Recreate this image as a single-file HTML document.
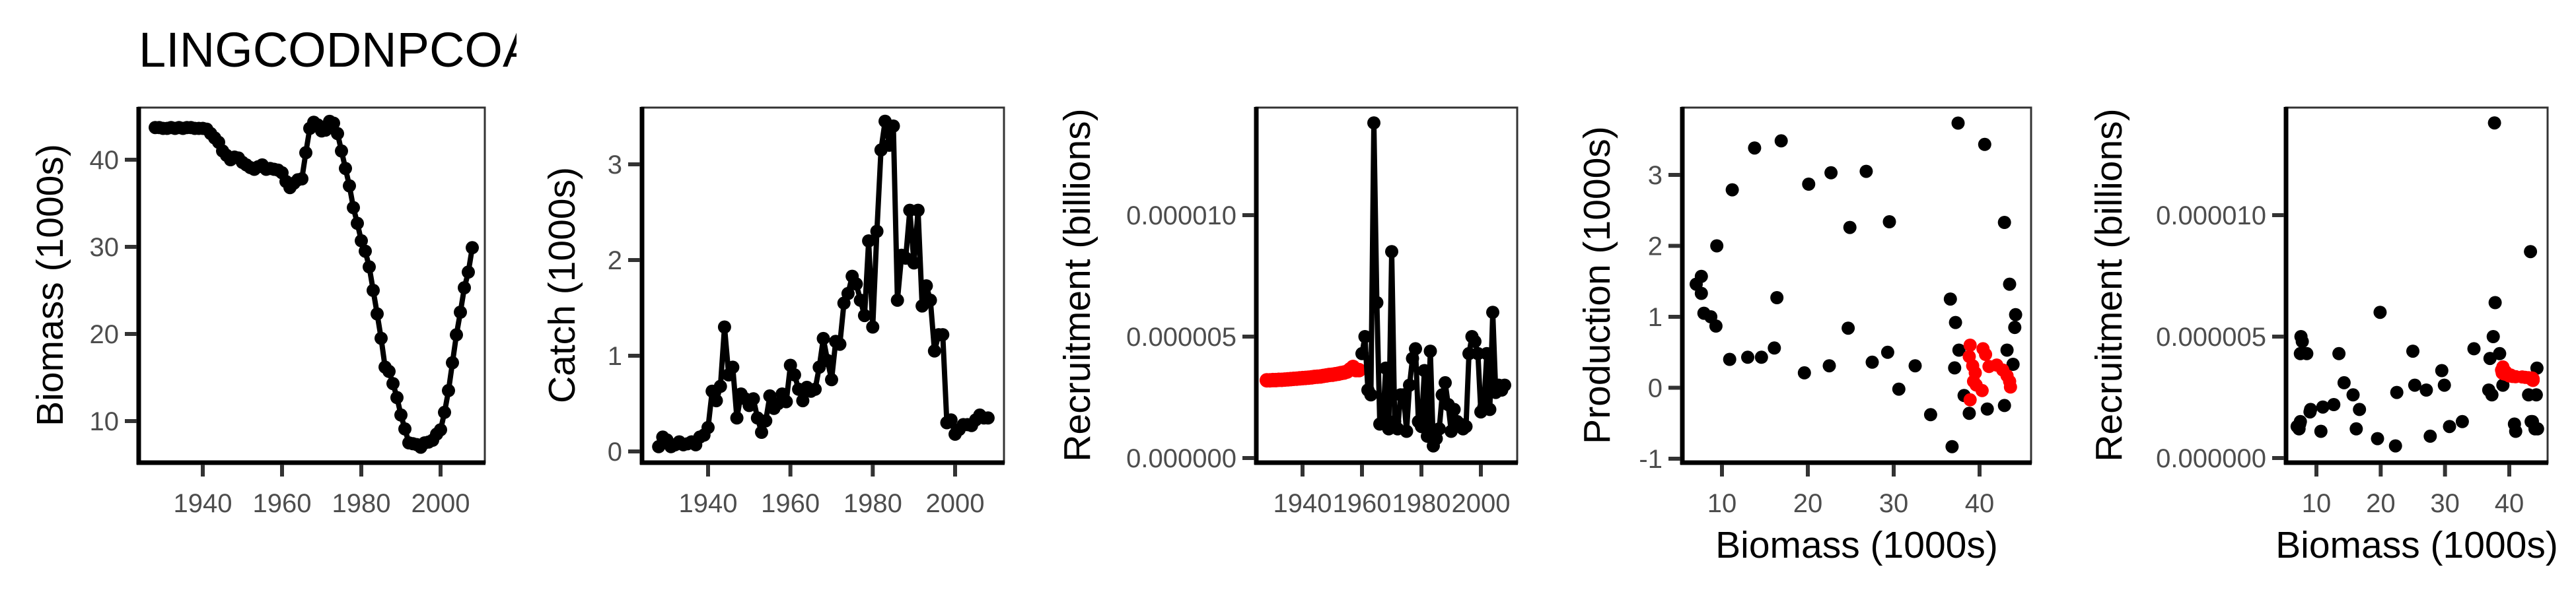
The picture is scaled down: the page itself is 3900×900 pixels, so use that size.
<!DOCTYPE html>
<html><head><meta charset="utf-8"><style>
html,body{margin:0;padding:0;background:#fff;}
svg{display:block;font-family:"Liberation Sans",Arial,sans-serif;}
</style></head><body>
<svg id="chart" width="3900" height="900" viewBox="0 0 3900 900">
<defs><clipPath id="titleclip"><rect x="0" y="0" width="782" height="140"/></clipPath></defs>
<text x="210" y="101" font-size="74" fill="#000" clip-path="url(#titleclip)">LINGCODNPCOA</text>
</svg>
<script>
const years = [];
for (let y = 1928; y <= 2008; y++) years.push(y);
const biomass = [43.7,43.7,43.6,43.6,43.7,43.6,43.7,43.6,43.7,43.7,43.6,43.6,43.6,43.5,43.0,42.5,42.0,41.0,40.5,40.0,40.3,40.2,39.7,39.4,39.1,38.9,39.2,39.4,38.9,39.0,38.9,38.8,38.5,37.5,36.8,37.3,37.7,37.8,40.8,43.6,44.3,44.0,43.3,43.4,44.4,44.2,43.0,41.0,39.0,37.0,34.5,32.7,30.7,29.5,27.7,25.0,22.3,19.5,16.2,15.7,14.3,12.7,10.7,9.1,7.5,7.4,7.3,7.0,7.5,7.6,7.8,8.5,9.0,11.0,13.5,16.7,19.9,22.5,25.3,27.1,29.9];
const catchVals = [0.05,0.15,0.12,0.05,0.07,0.10,0.07,0.08,0.10,0.07,0.15,0.17,0.25,0.63,0.53,0.68,1.30,0.80,0.88,0.35,0.60,0.55,0.48,0.55,0.35,0.20,0.32,0.58,0.45,0.50,0.60,0.52,0.90,0.80,0.65,0.53,0.67,0.63,0.65,0.88,1.18,0.95,0.75,1.15,1.12,1.55,1.65,1.83,1.75,1.58,1.42,2.20,1.30,2.30,3.15,3.45,3.20,3.40,1.58,2.05,2.02,2.52,1.97,2.52,1.52,1.73,1.58,1.05,1.22,1.22,0.30,0.33,0.18,0.23,0.28,0.28,0.27,0.33,0.38,0.35,0.35];
const recrRedYears = [];
for (let y = 1928; y <= 1959; y++) recrRedYears.push(y);
const recrRed = [3.20,3.20,3.21,3.21,3.22,3.22,3.23,3.24,3.25,3.26,3.27,3.28,3.29,3.30,3.31,3.32,3.34,3.35,3.36,3.38,3.40,3.42,3.43,3.45,3.47,3.50,3.52,3.56,3.65,3.75,3.62,3.62];
const recrBlackYears = [];
for (let y = 1960; y <= 2008; y++) recrBlackYears.push(y);
const recrBlack = [4.3,5.0,2.8,2.6,13.8,6.4,1.4,1.5,3.7,1.2,8.5,1.5,1.2,2.6,2.6,1.1,3.0,4.1,4.5,1.5,1.3,3.6,0.9,4.4,0.5,0.8,1.2,2.6,3.1,2.2,1.1,2.0,1.5,1.4,1.2,1.3,4.3,5.0,4.8,4.3,1.9,2.1,4.3,2.0,6.0,2.7,3.0,2.8,3.0];
const prodBlackB = [7.0,7.6,7.6,7.9,8.7,9.3,9.4,10.9,11.2,13.0,13.8,14.6,16.1,16.4,16.9,19.6,20.1,22.5,22.7,24.9,24.7,26.8,29.5,37.5,40.6,42.9,43.5,44.2,44.1,36.6,37.2,37.6,43.2,43.9,37.1,27.5,29.3,32.5,30.6,34.3,38.2,38.8,40.9,42.9,36.8];
const prodBlackP = [1.46,1.57,1.33,1.05,1.00,0.87,2.00,0.40,2.79,0.43,3.38,0.43,0.56,1.27,3.48,0.21,2.87,0.31,3.03,2.26,0.84,3.05,2.34,3.73,3.43,2.33,1.46,1.03,0.85,1.25,0.92,0.53,0.53,0.33,0.28,0.36,0.50,0.31,-0.02,-0.38,-0.11,-0.36,-0.30,-0.25,-0.83];
const prodRedB = [38.9,38.8,39.2,39.5,39.3,39.6,40.3,40.4,40.7,41.1,42.0,42.7,43.2,43.5,43.6,38.9];
const prodRedP = [0.60,0.44,0.31,0.21,0.09,0.04,-0.04,0.55,0.47,0.30,0.32,0.25,0.17,0.09,0.01,-0.17];
const yearTicks = [1940,1960,1980,2000];
const biomassTicks = [10,20,30,40];
const catchTicks = [0,1,2,3];
const recrTicks = [0,5,10];
const recrTickLabels = ["0.000000","0.000005","0.000010"];
const prodTicks = [-1,0,1,2,3];
const bioXTicks = [10,20,30,40];

const NS = "http://www.w3.org/2000/svg";
const svg = document.getElementById('chart');
function el(tag, attrs, parent) {
  const e = document.createElementNS(NS, tag);
  for (const k in attrs) e.setAttribute(k, attrs[k]);
  (parent || svg).appendChild(e);
  return e;
}
function lin(d0, d1, r0, r1) { return v => r0 + (v - d0) * (r1 - r0) / (d1 - d0); }

function panel(name, box, xs, ys, xt, xtl, yt, ytl, ytitle, xtitle, ytitleX) {
  const g = el('g', {});
  
  
  const frame = el('rect', {x: box.l, y: box.t, width: box.r - box.l, height: box.b - box.t, fill: 'none', stroke: '#333', 'stroke-width': 3}, g);
  
  
  const ax = el('line', {x1: box.l - 3, y1: box.b, x2: box.r + 1, y2: box.b, stroke: '#000', 'stroke-width': 7}, g);
  
  
  const ay = el('line', {x1: box.l, y1: box.t - 1, x2: box.l, y2: box.b + 3, stroke: '#000', 'stroke-width': 7}, g);
  
  
  xt.forEach((v, i) => {
    const x = xs(v);
    const t = el('line', {x1: x, y1: box.b + 3, x2: x, y2: box.b + 21, stroke: '#333', 'stroke-width': 6}, g);
    
    
    const lb = el('text', {x: x, y: box.b + 75, 'font-size': 40, fill: '#4d4d4d', 'text-anchor': 'middle'}, g);
    lb.textContent = xtl[i];
    
    
  });
  yt.forEach((v, i) => {
    const y = ys(v);
    const t = el('line', {x1: box.l - 21, y1: y, x2: box.l - 3, y2: y, stroke: '#333', 'stroke-width': 6}, g);
    
    
    const lb = el('text', {x: box.l - 30, y: y + 14, 'font-size': 40, fill: '#4d4d4d', 'text-anchor': 'end'}, g);
    lb.textContent = ytl[i];
    
    
  });
  const cy = (box.t + box.b) / 2;
  const yl = el('text', {x: ytitleX, y: cy, 'font-size': 57, fill: '#000', 'text-anchor': 'middle', transform: `rotate(-90 ${ytitleX} ${cy})`}, g);
  yl.textContent = ytitle;
  
  
  if (xtitle) {
    const xl = el('text', {x: (box.l + box.r) / 2, y: 845, 'font-size': 57, fill: '#000', 'text-anchor': 'middle'}, g);
    xl.textContent = xtitle;
    
    
  }
  return g;
}
function lineSeries(g, xv, yv, xs, ys, color, name, width) {
  const d = xv.map((x, i) => (i ? 'L' : 'M') + xs(x).toFixed(1) + ' ' + ys(yv[i]).toFixed(1)).join(' ');
  const p = el('path', {d: d, fill: 'none', stroke: color, 'stroke-width': width, 'stroke-linejoin': 'round'}, g);
  
  
}
function points(g, xv, yv, xs, ys, color, name, r) {
  xv.forEach((x, i) => {
    const c = el('circle', {cx: xs(x).toFixed(1), cy: ys(yv[i]).toFixed(1), r: r, fill: color}, g);
    
    
  });
}

// Panel 1: biomass vs year
{
  const box = {l: 210, r: 734, t: 163, b: 701};
  const xs = lin(1940, 2000, 307, 667), ys = lin(40, 10, 242, 638);
  const g = panel('biomass-panel', box, xs, ys, yearTicks, yearTicks.map(String), biomassTicks, biomassTicks.map(String), 'Biomass (1000s)', null, 95);
  lineSeries(g, years, biomass, xs, ys, '#000', 'biomass', 8);
  points(g, years, biomass, xs, ys, '#000', 'biomass', 10);
}
// Panel 2: catch vs year
{
  const box = {l: 972, r: 1520, t: 163, b: 701};
  const xs = lin(1940, 2000, 1072, 1446), ys = lin(3, 0, 249, 684);
  const g = panel('catch-panel', box, xs, ys, yearTicks, yearTicks.map(String), catchTicks, catchTicks.map(String), 'Catch (1000s)', null, 870);
  lineSeries(g, years, catchVals, xs, ys, '#000', 'catch', 8);
  points(g, years, catchVals, xs, ys, '#000', 'catch', 10);
}
// Panel 3: recruitment vs year
{
  const box = {l: 1902, r: 2297, t: 163, b: 701};
  const xs = lin(1940, 2000, 1972, 2242), ys = lin(0, 10, 694, 326);
  const g = panel('recruitment-panel', box, xs, ys, yearTicks, yearTicks.map(String), recrTicks, recrTickLabels, 'Recruitment (billions)', null, 1650);
  lineSeries(g, recrRedYears, recrRed, xs, ys, '#ff0000', 'recruitment-red', 8);
  points(g, recrRedYears, recrRed, xs, ys, '#ff0000', 'recruitment-red', 11);
  lineSeries(g, recrBlackYears, recrBlack, xs, ys, '#000', 'recruitment', 8);
  points(g, recrBlackYears, recrBlack, xs, ys, '#000', 'recruitment', 10);
}
// Panel 4: production vs biomass
{
  const box = {l: 2547, r: 3075, t: 163, b: 701};
  const xs = lin(10, 40, 2607, 2997), ys = lin(3, -1, 265, 695);
  const g = panel('production-panel', box, xs, ys, bioXTicks, bioXTicks.map(String), prodTicks, prodTicks.map(String), 'Production (1000s)', 'Biomass (1000s)', 2437);
  points(g, prodBlackB, prodBlackP, xs, ys, '#000', 'production', 10);
  points(g, prodRedB, prodRedP, xs, ys, '#ff0000', 'production-red', 10);
}
// Panel 5: recruitment vs biomass
{
  const box = {l: 3461, r: 3857, t: 163, b: 701};
  const xs = lin(10, 40, 3507, 3799), ys = lin(0, 10, 694, 326);
  const g = panel('stock-recruit-panel', box, xs, ys, bioXTicks, bioXTicks.map(String), recrTicks, recrTickLabels, 'Recruitment (billions)', 'Biomass (1000s)', 3212);
  const bB = recrBlackYears.map(y => biomass[years.indexOf(y)]);
  const rB = recrRedYears.map(y => biomass[years.indexOf(y)]);
  points(g, bB, recrBlack, xs, ys, '#000', 'stock-recruit', 10);
  points(g, rB, recrRed, xs, ys, '#ff0000', 'stock-recruit-red', 10);
}
</script>
</body></html>
